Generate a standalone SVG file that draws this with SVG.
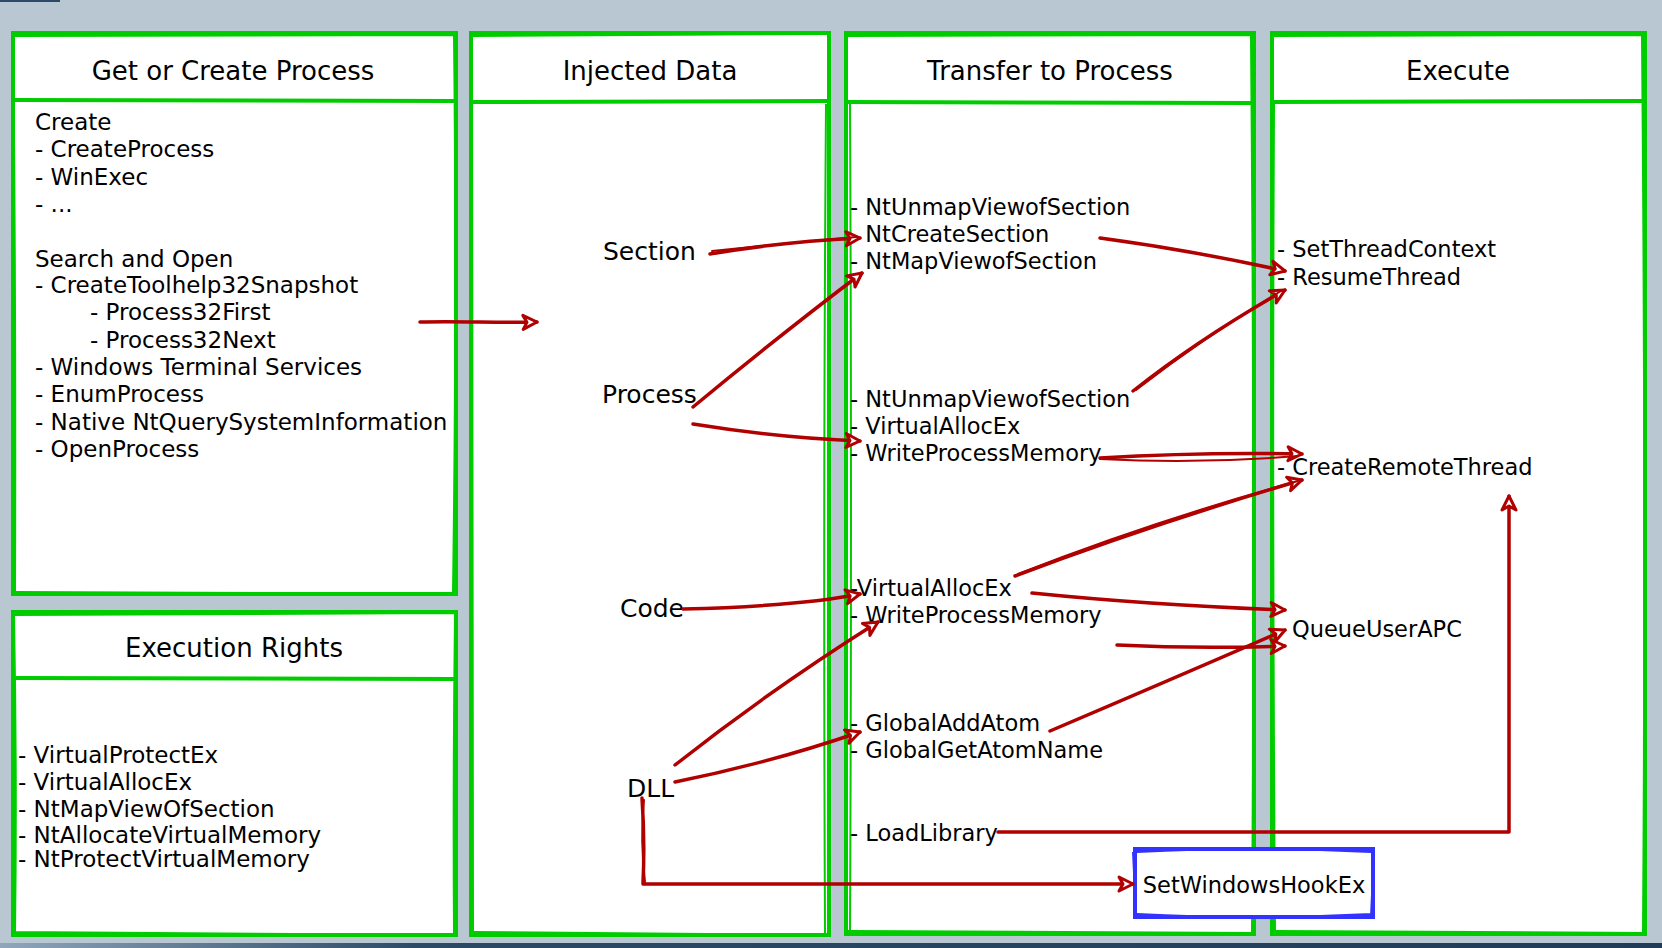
<svg xmlns="http://www.w3.org/2000/svg" width="1662" height="948" viewBox="0 0 1662 948">
<defs>
<linearGradient id="bband" x1="0" y1="0" x2="1" y2="0">
<stop offset="0" stop-color="#8fa6bb"/>
<stop offset="0.25" stop-color="#2c4a66"/>
<stop offset="1" stop-color="#1f3b57"/>
</linearGradient>
<marker id="ah" markerUnits="userSpaceOnUse" markerWidth="20" markerHeight="20" viewBox="0 0 20 20" refX="17" refY="10" orient="auto">
<path d="M3,3 L17,10 L3,17 L7,10 Z" fill="#ffffff" stroke="#b00000" stroke-width="3" stroke-linejoin="round"/>
</marker>
<style>
.box{fill:#ffffff;stroke:#00cc00;stroke-width:4;}
.sk{fill:none;stroke:#00cc00;stroke-width:2;}
.hd{fill:none;stroke:#00cc00;stroke-width:4;}
.ttl{font-family:"DejaVu Sans",sans-serif;font-size:26px;fill:#000;text-anchor:middle;}
.txt{font-family:"DejaVu Sans",sans-serif;font-size:22.5px;fill:#000;}
.ltxt{font-family:"DejaVu Sans",sans-serif;font-size:23px;fill:#000;}
.lbl{font-family:"DejaVu Sans",sans-serif;font-size:25px;fill:#000;}
.conn{fill:none;stroke:#b00000;stroke-width:3.5;stroke-linecap:round;stroke-linejoin:round;}
.conn2{fill:none;stroke:#b00000;stroke-width:2;stroke-linecap:round;}
.blue{fill:#ffffff;stroke:#3333ff;stroke-width:4;}
.bsk{fill:none;stroke:#3333ff;stroke-width:2;}
</style>
</defs>
<rect x="0" y="0" width="1662" height="948" fill="#b9c7d3"/>
<rect x="0" y="0" width="60" height="2" fill="#2c4a66"/>
<rect x="0" y="943" width="1662" height="5" fill="url(#bband)"/>

<g id="get-or-create-process">
<rect class="box" x="13" y="33" width="443" height="561"/>
<path class="sk" d="M15,36 L454,35 M13,38 Q16,300 15,592 M454,36 Q457,300 453,593 M16,592 L451,594"/>
<path class="hd" d="M13,100 L456,101"/>
<text class="ttl" x="233" y="80">Get or Create Process</text>
<text class="ltxt" x="35" y="130">Create</text>
<text class="ltxt" x="35" y="157">- CreateProcess</text>
<text class="ltxt" x="35" y="185">- WinExec</text>
<text class="ltxt" x="35" y="212">- ...</text>
<text class="ltxt" x="35" y="267">Search and Open</text>
<text class="ltxt" x="35" y="293">- CreateToolhelp32Snapshot</text>
<text class="ltxt" x="90" y="320">- Process32First</text>
<text class="ltxt" x="90" y="348">- Process32Next</text>
<text class="ltxt" x="35" y="375">- Windows Terminal Services</text>
<text class="ltxt" x="35" y="402">- EnumProcess</text>
<text class="ltxt" x="35" y="430">- Native NtQuerySystemInformation</text>
<text class="ltxt" x="35" y="457">- OpenProcess</text>
</g>

<g id="execution-rights">
<rect class="box" x="13" y="612" width="443" height="323"/>
<path class="sk" d="M15,615 L454,613 M14,616 Q17,780 15,933 M455,614 Q453,780 454,933 M15,932 L453,935"/>
<path class="hd" d="M13,678 L456,679"/>
<text class="ttl" x="234" y="657">Execution Rights</text>
<text class="ltxt" x="18" y="763">- VirtualProtectEx</text>
<text class="ltxt" x="18" y="790">- VirtualAllocEx</text>
<text class="ltxt" x="18" y="817">- NtMapViewOfSection</text>
<text class="ltxt" x="18" y="843">- NtAllocateVirtualMemory</text>
<text class="ltxt" x="18" y="867">- NtProtectVirtualMemory</text>
</g>

<g id="injected-data">
<rect class="box" x="471" y="33" width="358" height="902"/>
<path class="sk" d="M473,36 L827,34 M472,38 Q474,480 473,933 M826,104 Q823,500 825,933 M474,932 L827,935"/>
<path class="hd" d="M471,102 L829,101"/>
<text class="ttl" x="650" y="80">Injected Data</text>
<text class="lbl" x="603" y="260">Section</text>
<text class="lbl" x="602" y="403">Process</text>
<text class="lbl" x="620" y="617">Code</text>
<text class="lbl" x="627" y="797">DLL</text>
</g>

<g id="transfer-to-process">
<rect class="box" x="846" y="33" width="408" height="901"/>
<path class="sk" d="M848,36 L1252,35 M850,104 Q852,500 850,932 M1251,36 Q1255,500 1252,932 M848,931 L1252,933"/>
<path class="hd" d="M846,102 L1254,103"/>
<text class="ttl" x="1050" y="80">Transfer to Process</text>
<text class="txt" x="850" y="215">- NtUnmapViewofSection</text>
<text class="txt" x="850" y="242">- NtCreateSection</text>
<text class="txt" x="850" y="269">- NtMapViewofSection</text>
<text class="txt" x="850" y="407">- NtUnmapViewofSection</text>
<text class="txt" x="850" y="434">- VirtualAllocEx</text>
<text class="txt" x="850" y="461">- WriteProcessMemory</text>
<text class="txt" x="850" y="596">-VirtualAllocEx</text>
<text class="txt" x="850" y="623">- WriteProcessMemory</text>
<text class="txt" x="850" y="731">- GlobalAddAtom</text>
<text class="txt" x="850" y="758">- GlobalGetAtomName</text>
<text class="txt" x="850" y="841">- LoadLibrary</text>
</g>

<g id="execute">
<rect class="box" x="1272" y="33" width="373" height="901"/>
<path class="sk" d="M1274,36 L1643,35 M1274,104 Q1272,500 1275,932 M1642,36 Q1646,500 1643,932 M1276,931 L1643,933"/>
<path class="hd" d="M1272,102 L1645,101"/>
<text class="ttl" x="1458" y="80">Execute</text>
<text class="txt" x="1277" y="257">- SetThreadContext</text>
<text class="txt" x="1277" y="285">- ResumeThread</text>
<text class="txt" x="1277" y="475">- CreateRemoteThread</text>
<text class="txt" x="1292" y="637">QueueUserAPC</text>
</g>

<g id="setwindowshookex">
<rect class="blue" x="1135" y="849" width="238" height="68"/>
<path class="bsk" d="M1137,852 Q1250,846 1371,852 M1137,914 Q1250,920 1371,914 M1133,852 L1136,915 M1374,851 L1371,916"/>
<text class="txt" x="1254" y="893" text-anchor="middle">SetWindowsHookEx</text>
</g>

<g id="connectors">
<path class="conn" d="M420,322 C460,321 500,323 537,322" marker-end="url(#ah)"/>
<path class="conn" d="M710,254 Q780,242 860,238" marker-end="url(#ah)"/>
<path class="conn2" d="M712,251 Q790,243 856,237"/>
<path class="conn" d="M693,407 Q780,335 862,273" marker-end="url(#ah)"/>
<path class="conn" d="M693,424 Q780,438 860,441" marker-end="url(#ah)"/>
<path class="conn" d="M1100,238 Q1190,250 1285,271" marker-end="url(#ah)"/>
<path class="conn" d="M1133,391 Q1200,338 1285,290" marker-end="url(#ah)"/>
<path class="conn2" d="M1136,390 Q1210,333 1281,291"/>
<path class="conn" d="M1100,458 Q1200,452 1302,454" marker-end="url(#ah)"/>
<path class="conn2" d="M1100,459 Q1200,464 1298,456"/>
<path class="conn" d="M1015,576 Q1150,525 1302,480" marker-end="url(#ah)"/>
<path class="conn2" d="M1018,574 Q1150,522 1298,481"/>
<path class="conn" d="M1032,593 Q1150,605 1285,610" marker-end="url(#ah)"/>
<path class="conn" d="M1117,645 Q1200,649 1285,646" marker-end="url(#ah)"/>
<path class="conn" d="M1050,731 Q1170,680 1285,630" marker-end="url(#ah)"/>
<path class="conn" d="M683,609 Q800,606 860,594" marker-end="url(#ah)"/>
<path class="conn" d="M675,765 Q770,690 878,622" marker-end="url(#ah)"/>
<path class="conn" d="M675,782 Q770,763 860,732" marker-end="url(#ah)"/>
<path class="conn" d="M642,798 Q645,840 643,884 L1133,884" marker-end="url(#ah)"/>
<path class="conn2" d="M644,800 Q640,840 645,882"/>
<path class="conn" d="M998,832 L1509,832 L1509,496" marker-end="url(#ah)"/>
</g>
</svg>
